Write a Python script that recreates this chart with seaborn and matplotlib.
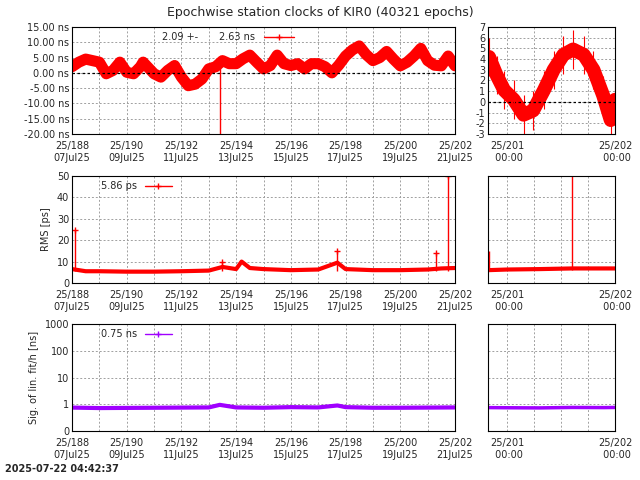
import matplotlib
matplotlib.use("Agg")
import matplotlib.pyplot as plt
import seaborn as sns
import numpy as np
import pandas as pd
from matplotlib.ticker import FixedLocator, MultipleLocator

# ---- data (day of year 2025) ----
clk_day = [188, 188.25, 188.5, 188.75, 189, 189.25, 189.5, 189.75, 190, 190.25, 190.5, 190.6, 191, 191.25,
           191.5, 191.75, 192, 192.25, 192.5, 192.75, 193, 193.25, 193.5, 193.75, 194, 194.25, 194.5, 194.75,
           195, 195.25, 195.5, 195.75, 196, 196.25, 196.5, 196.75, 197, 197.25, 197.5, 197.75, 198, 198.25,
           198.5, 198.75, 199, 199.25, 199.5, 199.75, 200, 200.25, 200.5, 200.75, 201, 201.25, 201.5, 201.75, 202]
clk_ns = [2.0, 3.5, 4.5, 4.0, 3.5, -0.3, 0.8, 3.5, 0.2, -0.3, 2.0, 3.5, -0.3, -1.4,
          0.8, 2.4, -1.4, -4.2, -3.7, -2.0, 1.3, 2.0, 4.0, 3.0, 3.0, 4.6, 5.8, 3.5,
          1.3, 2.4, 5.8, 3.0, 2.4, 3.0, 1.3, 3.0, 3.0, 2.0, 0.0, 2.5, 5.5, 7.5,
          8.8, 6.0, 4.0, 5.0, 7.0, 4.5, 2.3, 3.5, 5.5, 8.0, 4.0, 2.5, 2.3, 5.5, 2.3]
clk_spike_day = [193.4]
clk_spike_ns = [-20.0]

zoom_day = [200.83, 200.9, 200.97, 201.06, 201.15, 201.24, 201.34, 201.43, 201.52, 201.61, 201.71, 201.8, 201.89, 201.96, 202.0]
zoom_ns = [4.2, 2.5, 1.1, 0.2, -1.2, -0.8, 1.1, 3.0, 4.4, 4.9, 4.4, 3.0, 0.6, -1.7, 0.2]

rms_day = [188, 188.5, 189, 190, 191, 192, 193, 193.5, 194, 194.2, 194.5, 195, 196, 197, 197.7, 198, 199, 200, 201, 201.5, 202]
rms_ps = [6.5, 5.5, 5.5, 5.3, 5.3, 5.5, 5.8, 7.5, 6.5, 10.0, 7.0, 6.5, 6.0, 6.3, 9.5, 6.5, 6.0, 6.0, 6.3, 6.8, 7.0]
rms_spike_day = [188.1, 193.5, 197.7, 201.3, 201.75]
rms_spike_ps = [25.0, 10.0, 15.0, 14.0, 50.0]
rmsz_day = [200.82, 201.0, 201.3, 201.6, 201.9, 202.0]
rmsz_ps = [6.0, 6.3, 6.5, 6.8, 6.8, 6.8]
rmsz_spike_day = [200.83, 201.6]
rmsz_spike_ps = [15.0, 50.0]

sig_day = [188, 189, 190, 191, 192, 193, 193.4, 194, 195, 196, 197, 197.7, 198, 199, 200, 201, 202]
sig_ns = [0.75, 0.72, 0.73, 0.74, 0.75, 0.76, 0.95, 0.76, 0.74, 0.78, 0.76, 0.9, 0.78, 0.74, 0.74, 0.75, 0.76]
sigz_day = [200.82, 201.0, 201.3, 201.6, 201.9, 202.0]
sigz_ns = [0.75, 0.74, 0.73, 0.76, 0.75, 0.76]

main_ticks = [188, 190, 192, 194, 196, 198, 200, 202]
main_labels = ["25/188\n07Jul25", "25/190\n09Jul25", "25/192\n11Jul25", "25/194\n13Jul25",
               "25/196\n15Jul25", "25/198\n17Jul25", "25/200\n19Jul25", "25/202\n21Jul25"]
zoom_ticks = [201, 202]
zoom_labels = ["25/201\n 00:00", "25/202\n 00:00"]

sns.set_style("white")
plt.rcParams["font.size"] = 7
plt.rcParams["axes.unicode_minus"] = False
fig = plt.figure(figsize=(6.4, 4.8), dpi=100)
L, W = 72/640, 383/640
RL, RW = 488/640, 127/640
H = 107/480
bots = [1-134/480, 1-283/480, 1-431/480]
RED = "#ff0000"
PUR = "#a000ff"
grid = dict(color="#a0a0a0", linestyle=(0, (2, 2)), linewidth=0.7)

def style(ax, zoom):
    if zoom:
        ax.set_xlim(200.82, 202)
        ax.xaxis.set_major_locator(FixedLocator(zoom_ticks))
        ax.set_xticklabels(zoom_labels)
        ax.xaxis.set_minor_locator(MultipleLocator(0.25))
    else:
        ax.set_xlim(188, 202)
        ax.xaxis.set_major_locator(FixedLocator(main_ticks))
        ax.set_xticklabels(main_labels)
        ax.xaxis.set_minor_locator(MultipleLocator(1))
    ax.grid(True, which="both", **grid)
    ax.set_axisbelow(True)
    for s in ax.spines.values():
        s.set_color("black"); s.set_linewidth(0.8)
    ax.tick_params(length=3, direction="in", pad=2, which="both")
    ax.tick_params(axis="x", pad=5)
    ax.set_xlabel(""); ax.set_ylabel("")

# top left
ax = fig.add_axes([L, bots[0], W, H])
sns.lineplot(x=clk_day, y=clk_ns, ax=ax, color=RED, linewidth=8, solid_joinstyle="round")
ax.vlines(clk_spike_day, clk_spike_ns, [2.0], color=RED, linewidth=1)
ax.axhline(0, color="black", linestyle=(0, (2, 2)), linewidth=0.9)
ax.set_ylim(-20, 15)
ax.set_yticks(range(-20, 16, 5))
ax.set_yticklabels([f"{v:.2f} ns" for v in range(-20, 16, 5)])
style(ax, False)
ax.text(0.235, 0.91, "2.09 +-", transform=ax.transAxes, ha="left", va="center", fontsize=7)
ax.text(0.385, 0.91, "2.63 ns", transform=ax.transAxes, ha="left", va="center", fontsize=7)
ax.plot([0.5, 0.58], [0.91, 0.91], transform=ax.transAxes, color=RED, linewidth=1)
ax.plot([0.54], [0.91], transform=ax.transAxes, color=RED, marker="+", markersize=5)

# top right
ax = fig.add_axes([RL, bots[0], RW, H])
sns.lineplot(x=zoom_day, y=zoom_ns, ax=ax, color=RED, linewidth=10, solid_joinstyle="round")
ax.errorbar(zoom_day, zoom_ns, yerr=1.8, fmt="+", color=RED, linewidth=0.8, markersize=4)
ax.axhline(0, color="black", linestyle=(0, (2, 2)), linewidth=0.9)
ax.set_ylim(-3, 7)
ax.set_yticks(range(-3, 8))
style(ax, True)

# middle left
ax = fig.add_axes([L, bots[1], W, H])
sns.lineplot(x=rms_day, y=rms_ps, ax=ax, color=RED, linewidth=3)
ax.vlines(rms_spike_day, 5.5, rms_spike_ps, color=RED, linewidth=1)
ax.plot(rms_spike_day, rms_spike_ps, "+", color=RED, markersize=5)
ax.set_ylim(0, 50)
ax.set_yticks(range(0, 51, 10))
style(ax, False)
ax.set_ylabel("RMS [ps]", fontsize=7)
ax.text(0.075, 0.91, "5.86 ps", transform=ax.transAxes, ha="left", va="center", fontsize=7)
ax.plot([0.19, 0.26], [0.91, 0.91], transform=ax.transAxes, color=RED, linewidth=1)
ax.plot([0.225], [0.91], transform=ax.transAxes, color=RED, marker="+", markersize=5)

# middle right
ax = fig.add_axes([RL, bots[1], RW, H])
sns.lineplot(x=rmsz_day, y=rmsz_ps, ax=ax, color=RED, linewidth=3)
ax.vlines(rmsz_spike_day, 6, rmsz_spike_ps, color=RED, linewidth=1)
ax.set_ylim(0, 50)
ax.set_yticks(range(0, 51, 10))
ax.set_yticklabels([])
style(ax, True)

# bottom left
ax = fig.add_axes([L, bots[2], W, H])
sns.lineplot(x=sig_day, y=sig_ns, ax=ax, color=PUR, linewidth=3)
ax.set_yscale("log")
ax.set_ylim(0.1, 1000)
ax.set_yticks([0.1, 1, 10, 100, 1000])
ax.set_yticklabels(["0", "1", "10", "100", "1000"])
ax.minorticks_off()
style(ax, False)
ax.yaxis.set_minor_locator(FixedLocator([]))
ax.set_ylabel("Sig. of lin. fit/h [ns]", fontsize=7)
ax.text(0.075, 0.91, "0.75 ns", transform=ax.transAxes, ha="left", va="center", fontsize=7)
ax.plot([0.19, 0.26], [0.91, 0.91], transform=ax.transAxes, color=PUR, linewidth=1)
ax.plot([0.225], [0.91], transform=ax.transAxes, color=PUR, marker="+", markersize=5)

# bottom right
ax = fig.add_axes([RL, bots[2], RW, H])
sns.lineplot(x=sigz_day, y=sigz_ns, ax=ax, color=PUR, linewidth=2.5)
ax.set_yscale("log")
ax.set_ylim(0.1, 1000)
ax.set_yticks([0.1, 1, 10, 100, 1000])
ax.set_yticklabels([])
style(ax, True)
ax.yaxis.set_minor_locator(FixedLocator([]))

fig.text(0.5, 0.988, "Epochwise station clocks of KIR0 (40321 epochs)", ha="center", va="top", fontsize=9)
fig.text(0.008, 0.012, "2025-07-22 04:42:37", ha="left", va="bottom", fontsize=7, fontweight="bold")
fig.savefig("out.png", dpi=100)
